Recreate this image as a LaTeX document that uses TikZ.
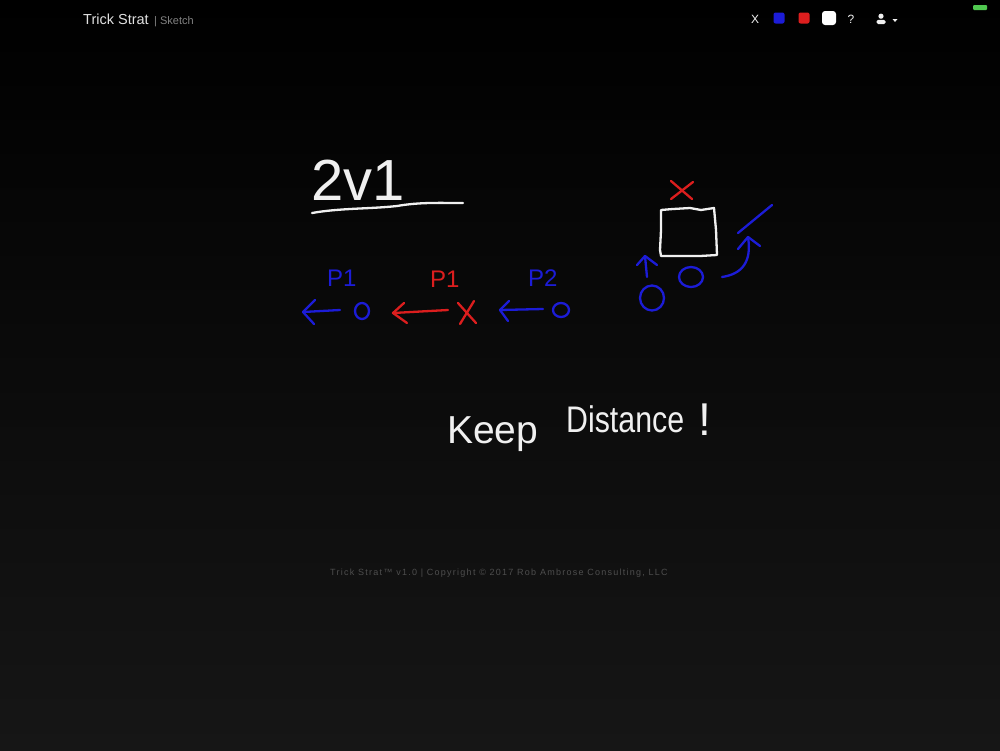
\documentclass[tikz,border=0pt]{standalone}
\usepackage{fontspec}
\setmainfont{Liberation Sans}
\usetikzlibrary{arrows.meta}
\definecolor{sblue}{RGB}{28,28,215}
\definecolor{sred}{RGB}{220,30,30}
\definecolor{swhite}{RGB}{240,240,240}
\definecolor{hdr}{RGB}{225,225,225}
\definecolor{subgray}{RGB}{130,130,130}
\definecolor{foot}{RGB}{78,78,78}
\definecolor{bgbot}{RGB}{22,22,22}
\definecolor{okgreen}{RGB}{80,200,80}
\begin{document}
\begin{tikzpicture}[x=1pt,y=-1pt,
  hand/.style={line width=2.3pt,line cap=round,line join=round},
  bstroke/.style={hand,draw=sblue},
  rstroke/.style={hand,draw=sred},
  wstroke/.style={hand,draw=swhite},
  note/.style={inner sep=0pt,anchor=base west},
  btn/.style={minimum width=11pt,minimum height=11pt,inner sep=0pt,rounded corners=2pt}]
% background
\shade[top color=black,bottom color=bgbot] (0,0) rectangle (1000,750);
\useasboundingbox (0,0) rectangle (1000,750);
% header
\node[note,text=hdr,font=\fontsize{14.5}{14.5}\selectfont] (title) at (83,24) {Trick Strat};
\node[note,text=subgray,font=\fontsize{11}{11}\selectfont] (sub) at (154,24) {| Sketch};
\node[text=swhite,font=\fontsize{12}{12}\selectfont,inner sep=0pt] (xbtn) at (755,19) {X};
\node[btn,fill=sblue] (bluebtn) at (779,18) {};
\node[btn,fill=sred] (redbtn) at (804,18) {};
\node[btn,fill=white,minimum width=14pt,minimum height=14pt,rounded corners=3pt] (whitebtn) at (829,18) {};
\node[text=swhite,font=\fontsize{12}{12}\selectfont,inner sep=0pt] (help) at (851,19) {?};
\fill[swhite] (881,16.2) circle (2.6);
\fill[swhite,rounded corners=1.5pt] (876.5,24) rectangle (885.5,19.8);
\fill[swhite] (892.5,19) -- (897.5,19) -- (895,22) -- cycle;
\fill[okgreen,rounded corners=1pt] (973,5) rectangle (987,10);
% 2v1 title
\node[note,text=swhite,font=\fontsize{58}{58}\selectfont] (twovone) at (311,200) {2v1};
\draw[wstroke] (312,213) .. controls (340,208) and (370,209) .. (397,206) .. controls (420,202) and (440,203) .. (463,203);
% row of players
\node[note,text=sblue,font=\fontsize{24}{24}\selectfont] (lblp1a) at (327,286) {P1};
\node[note,text=sred,font=\fontsize{24}{24}\selectfont] (lblp1b) at (430,287) {P1};
\node[note,text=sblue,font=\fontsize{24}{24}\selectfont] (lblp2) at (528,286) {P2};
\draw[bstroke] (362,311) ellipse (7 and 8);
\coordinate (o1) at (362,311);
\coordinate (a1s) at (340,310);
\coordinate (a1t) at (303,312);
\draw[bstroke] (a1s) -- (a1t);
\draw[bstroke] (315,300) -- (a1t) -- (314,324);
\coordinate (xr) at (467,313);
\draw[rstroke] (458,303) -- (476,323);
\draw[rstroke] (474,301) -- (460,324);
\coordinate (a2s) at (448,310);
\coordinate (a2t) at (393,313);
\draw[rstroke] (a2s) -- (a2t);
\draw[rstroke] (404,303) -- (a2t) -- (407,323);
\draw[bstroke] (561,310) ellipse (8 and 7);
\coordinate (a3s) at (543,309);
\coordinate (a3t) at (500,310);
\draw[bstroke] (a3s) -- (a3t);
\draw[bstroke] (509,301) -- (a3t) -- (508,321);
% right play
\draw[rstroke] (671,181) -- (692,199);
\draw[rstroke] (693,182) -- (671,199);
\draw[wstroke] (661,210) -- (673,209) -- (690,208) -- (701,210) -- (714,208) -- (716,230) -- (717,255) -- (700,256) -- (672,256) -- (661,256) -- (660,250) -- (661,230) -- cycle;
\draw[bstroke] (652,298) ellipse (12 and 12.5);
\draw[bstroke] (691,277) ellipse (12 and 10);
\coordinate (up1) at (647,277);
\coordinate (up2) at (645,256);
\draw[bstroke] (up1) -- (up2);
\draw[bstroke] (637,265) -- (up2) -- (657,265);
\coordinate (c1) at (722,277);
\coordinate (c2) at (748,237);
\draw[bstroke] (c1) .. controls (742,274) and (752,262) .. (c2);
\draw[bstroke] (738,249) -- (c2) -- (760,246);
\draw[bstroke] (738,233) -- (772,205);
% keep distance
\node[note,text=swhite,font=\fontsize{39}{39}\selectfont] (keep) at (447,443) {Keep};
\node[note,text=swhite,font=\fontsize{37}{37}\selectfont,xscale=0.82,transform shape] (dist) at (566,432) {Distance};
\node[note,text=swhite,font=\fontsize{46}{46}\selectfont] (bang) at (698,435) {!};
% footer
\node[text=foot,font=\fontsize{9}{9}\selectfont\addfontfeature{LetterSpace=14}] (footer) at (499,573) {Trick Strat™ v1.0 | Copyright © 2017 Rob Ambrose Consulting, LLC};
\end{tikzpicture}
\end{document}
